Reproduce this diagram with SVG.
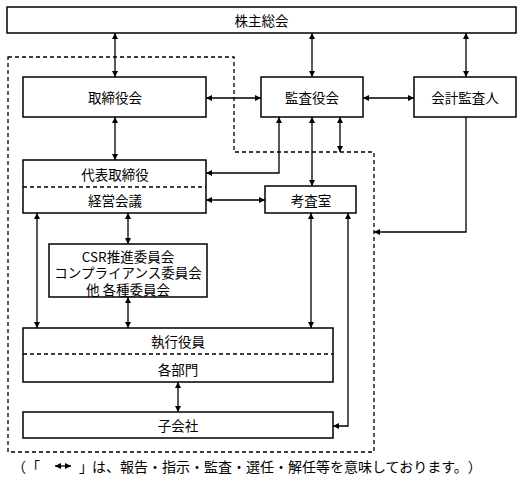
<svg xmlns="http://www.w3.org/2000/svg" width="529" height="482" viewBox="0 0 529 482">
<defs>
<marker id="ah" viewBox="0 0 6 6" refX="6" refY="3" markerWidth="6" markerHeight="6" markerUnits="userSpaceOnUse" orient="auto-start-reverse">
<path d="M0,0 L6,3 L0,6 z" fill="#000"/>
</marker>
<style>
.box{fill:#fff;stroke:#000;stroke-width:1.5}
.dash{fill:none;stroke:#000;stroke-width:1.3;stroke-dasharray:4,3}
.c{fill:none;stroke:#000;stroke-width:1.3}
.b{marker-start:url(#ah);marker-end:url(#ah)}
.e{marker-end:url(#ah)}
text{font-family:"Noto Sans CJK JP","Noto Sans",sans-serif;font-size:13.5px;fill:#000;dominant-baseline:central;text-spacing-trim:space-all}
.m{text-anchor:middle}
.l{font-size:14px}
</style>
</defs>
<rect width="529" height="482" fill="#fff"/>
<path class="dash" d="M8,57 H234 V152 H374 V452 H8 Z"/>
<g id="connectors">
<line class="c b" x1="115" y1="33" x2="115" y2="77"/>
<line class="c b" x1="312" y1="33" x2="312" y2="77"/>
<line class="c b" x1="466" y1="33" x2="466" y2="77"/>
<line class="c b" x1="206" y1="98" x2="261" y2="98"/>
<line class="c b" x1="363" y1="98" x2="414" y2="98"/>
<line class="c b" x1="115" y1="117" x2="115" y2="160"/>
<polyline class="c b" points="206,173 279,173 279,117"/>
<line class="c b" x1="312" y1="117" x2="312" y2="186"/>
<line class="c b" x1="340" y1="117" x2="340" y2="152"/>
<line class="c b" x1="206" y1="200" x2="265" y2="200"/>
<polyline class="c e" points="466,117 466,232 374,232"/>
<line class="c b" x1="128" y1="213" x2="128" y2="244"/>
<line class="c b" x1="128" y1="297" x2="128" y2="328"/>
<line class="c b" x1="37" y1="213" x2="37" y2="328"/>
<line class="c b" x1="311" y1="213" x2="311" y2="328"/>
<polyline class="c b" points="348,213 348,426 333,426"/>
<line class="c b" x1="178" y1="382" x2="178" y2="412"/>
</g>
<g id="kabunushi"><rect class="box" x="7" y="7" width="509" height="26"/><text class="m" x="261.5" y="20">株主総会</text></g>
<g id="torishimariyakukai"><rect class="box" x="23" y="77" width="183" height="40"/><text class="m" x="115" y="97">取締役会</text></g>
<g id="kansayakukai"><rect class="box" x="261" y="77" width="102" height="40"/><text class="m" x="312" y="97">監査役会</text></g>
<g id="kaikeikansanin"><rect class="box" x="414" y="77" width="102" height="40"/><text class="m" x="465" y="97">会計監査人</text></g>
<g id="daihyo"><rect class="box" x="23" y="160" width="183" height="53"/><line class="dash" x1="23" y1="187" x2="206" y2="187"/><text class="m" x="115" y="174">代表取締役</text><text class="m" x="115" y="200">経営会議</text></g>
<g id="kousashitsu"><rect class="box" x="265" y="186" width="91" height="27"/><text class="m" x="311" y="200">考査室</text></g>
<g id="iinkai"><rect class="box" x="49" y="244" width="158" height="53"/><text class="m" x="128" y="255.5">CSR推進委員会</text><text class="m" x="128" y="272">コンプライアンス委員会</text><text class="m" x="128" y="288.5">他 各種委員会</text></g>
<g id="shikkou"><rect class="box" x="23" y="328" width="310" height="54"/><line class="dash" x1="23" y1="354" x2="333" y2="354"/><text class="m" x="178" y="341">執行役員</text><text class="m" x="178" y="369">各部門</text></g>
<g id="kogaisha"><rect class="box" x="23" y="412" width="310" height="26"/><text class="m" x="178" y="425">子会社</text></g>
<g id="legend">
<text class="l" x="12" y="466">（</text>
<text class="l" x="26" y="466">「</text>
<line class="c b" x1="55" y1="466" x2="71" y2="466"/>
<text class="l" x="79" y="466">」</text>
<text class="l" x="92" y="466">は、報告・指示・監査・選任・解任等を意味しております。）</text>
</g>
</svg>
